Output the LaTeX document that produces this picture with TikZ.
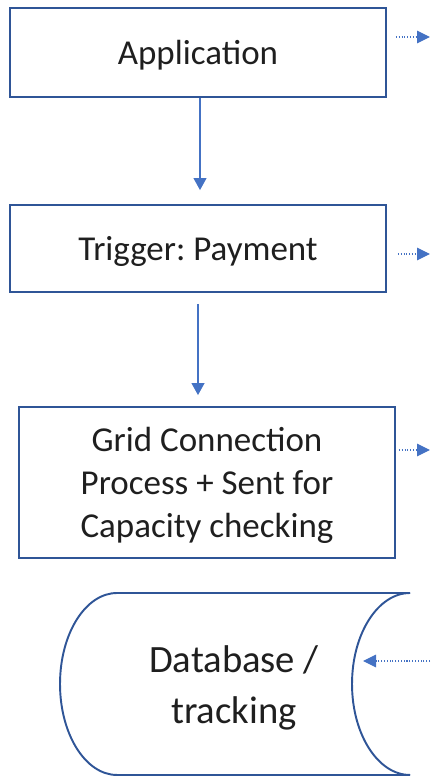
\documentclass[tikz,border=0pt]{standalone}
\usepackage{fontspec}
\setmainfont{Carlito}
\frenchspacing
\usetikzlibrary{arrows.meta}
\definecolor{boxblue}{HTML}{2F5597}
\definecolor{arrowblue}{HTML}{4472C4}
\begin{document}
\begin{tikzpicture}[x=0.02cm,y=-0.02cm,
  stepbox/.style={draw=boxblue,line width=1.1pt,inner sep=0pt,minimum width=7.52cm,text depth=0pt,
    align=center,text=black!88,font=\fontsize{19.9}{24.5}\selectfont},
  flow/.style={draw=arrowblue,line width=0.6pt,-{Triangle[length=0.24cm,width=0.26cm]}},
  side/.style={draw=arrowblue,line width=0.6pt,densely dotted,-{Triangle[length=0.26cm,width=0.25cm]}}]
\useasboundingbox (0,0) rectangle (430,776);
\node [stepbox,minimum height=1.78cm] (app) at (198,52.5) {Application};
\node [stepbox,minimum height=1.74cm] (trig) at (198,248.5) {Trigger: Payment};
\node [stepbox,minimum height=3.02cm] (grid) at (207,482.5) {Grid Connection\\Process + Sent for\\Capacity checking};
\draw [draw=boxblue,line width=1.1pt] (410,593) -- (117,593) arc[start angle=90,end angle=270,x radius=1.14cm,y radius=1.82cm] -- (410,775);
\draw [draw=boxblue,line width=1.1pt] (410,593) arc[start angle=90,end angle=270,x radius=1.16cm,y radius=1.82cm];
\node [align=center,text=black!88,font=\fontsize{22}{29}\selectfont] (db) at (234,688) {Database /\\tracking};
\coordinate (outA) at (430,37);
\coordinate (outB) at (430,254);
\coordinate (outC) at (430,450);
\coordinate (inD) at (430,661);
\coordinate (dbin) at (363,661);
\draw [flow,shorten >=0.28cm] ([xshift=0.04cm]app.south) -- ([xshift=0.04cm]trig.north);
\draw [flow,shorten <=0.22cm,shorten >=0.22cm] (trig.south) -- (trig.south |- grid.north);
\draw [side] ([xshift=0.18cm]app.east |- outA) -- (outA);
\draw [side] ([xshift=0.22cm]trig.east |- outB) -- (outB);
\draw [side] ([xshift=0.06cm]grid.east |- outC) -- (outC);
\draw [side] (inD) -- (dbin);
\end{tikzpicture}
\end{document}
